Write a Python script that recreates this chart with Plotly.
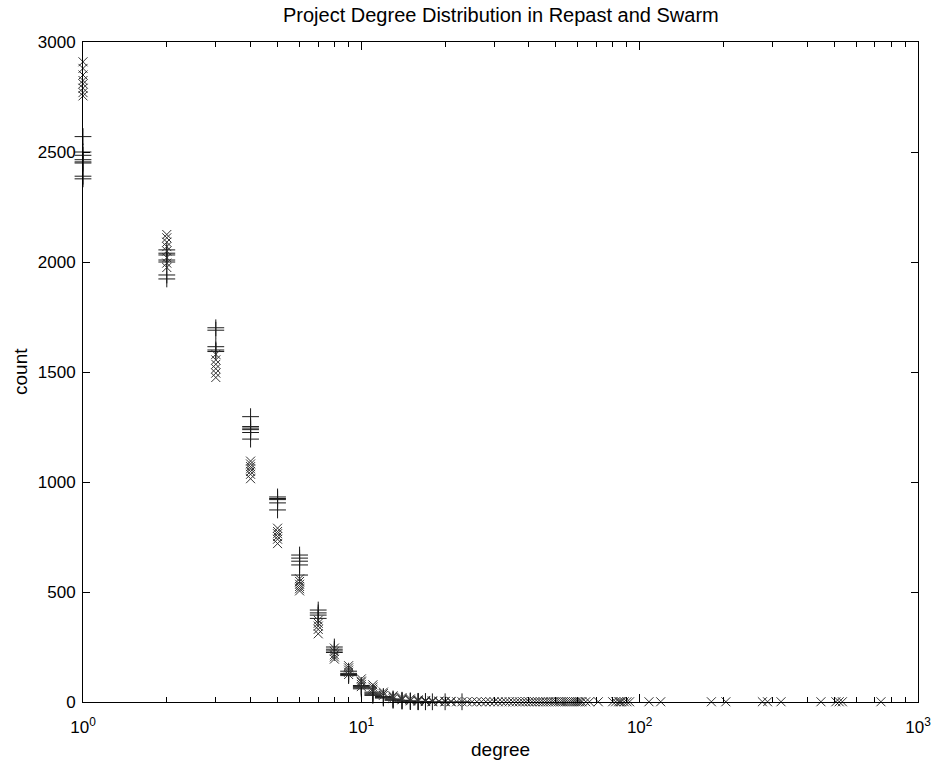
import plotly.graph_objects as go

# Repast runs ("+" markers): degree, count
repast_degree = (
    [1] * 8 + [2] * 7 + [3] * 5 + [4] * 6 + [5] * 5 + [6] * 5 + [7] * 4 + [8] * 4
    + [9] * 4 + [10] * 4 + [11] * 4 + [12] * 3 + [13] * 3 + [14] * 3 + [15] * 3
    + [16] * 3 + [17] * 2 + [18, 20, 23]
)
repast_count = [
    2570, 2500, 2485, 2465, 2455, 2450, 2390, 2378,
    2055, 2040, 2032, 2009, 2000, 1941, 1923,
    1701, 1690, 1615, 1600, 1593,
    1297, 1252, 1245, 1238, 1225, 1195,
    932, 925, 920, 905, 873,
    668, 654, 640, 623, 577,
    418, 405, 395, 380,
    250, 240, 232, 225,
    140, 130, 125, 120,
    75, 70, 65, 60,
    45, 40, 35, 30,
    25, 20, 18,
    14, 10, 8,
    8, 6, 4,
    5, 3, 2,
    3, 2, 1,
    2, 1,
    1, 1, 1,
]

# Swarm runs ("x" markers): degree, count
swarm_head_degree = (
    [1] * 8 + [2] * 8 + [3] * 6 + [4] * 7 + [5] * 6 + [6] * 6 + [7] * 5 + [8] * 5
    + [9] * 5 + [10] * 5 + [11] * 4 + [12] * 3 + [13] * 3 + [14] * 3 + [15] * 3
    + [16] * 3 + [17] * 3 + [18] * 3 + [19] * 2 + [20] * 2 + [21] * 2
)
swarm_head_count = [
    2910, 2880, 2850, 2825, 2810, 2790, 2770, 2755,
    2125, 2110, 2090, 2070, 2050, 2020, 1995, 1975,
    1580, 1555, 1535, 1515, 1495, 1475,
    1095, 1082, 1070, 1060, 1048, 1035, 1015,
    790, 775, 765, 752, 740, 720,
    560, 548, 535, 525, 515, 505,
    372, 358, 345, 330, 310,
    245, 230, 215, 205, 195,
    165, 155, 145, 135, 125,
    105, 95, 90, 80, 70,
    78, 68, 58, 50,
    45, 38, 30,
    28, 22, 15,
    20, 14, 10,
    14, 8, 5,
    10, 6, 3,
    7, 4, 2,
    5, 3, 1,
    4, 2,
    3, 1,
    3, 1,
]
swarm_tail_degree = [
    22, 23, 24, 25, 26, 27, 28, 29, 30, 31, 32, 33, 34, 35, 36, 37, 38, 39, 40,
    41, 42, 43, 44, 45, 46, 47, 48, 49, 50, 51, 52, 53, 54, 55, 56, 57, 58, 59,
    60, 61, 62, 64, 66, 71, 80, 82, 84, 85, 86, 88, 90, 92,
    108, 119, 181, 204, 276, 288, 322, 448, 507, 521, 535, 736,
]
swarm_tail_count = [1] * len(swarm_tail_degree)

swarm_degree = swarm_head_degree + swarm_tail_degree
swarm_count = swarm_head_count + swarm_tail_count

x_tick_vals = [1, 10, 100, 1000]
x_tick_text = ["10<sup>0</sup>", "10<sup>1</sup>", "10<sup>2</sup>", "10<sup>3</sup>"]
x_minor_vals = [m * 10 ** e for e in range(3) for m in range(2, 10)]
y_tick_vals = [0, 500, 1000, 1500, 2000, 2500, 3000]

FONT = "Liberation Sans, Arial, Helvetica, sans-serif"
FS = 17

fig = go.Figure()
fig.add_trace(go.Scatter(
    x=repast_degree, y=repast_count, mode="markers", name="Repast",
    cliponaxis=False,
    marker=dict(symbol="cross-thin-open", size=12, color="#1a1a1a",
                line=dict(width=1, color="#1a1a1a")),
))
fig.add_trace(go.Scatter(
    x=swarm_degree, y=swarm_count, mode="markers", name="Swarm",
    cliponaxis=False,
    marker=dict(symbol="x-thin-open", size=9, color="#333333",
                line=dict(width=1, color="#333333")),
))

fig.update_layout(
    width=939, height=766,
    margin=dict(l=83, r=21, t=42, b=64, autoexpand=False),
    paper_bgcolor="white", plot_bgcolor="white",
    showlegend=False,
    font=dict(family=FONT, size=FS, color="black"),
    xaxis=dict(
        type="log", range=[0, 3],
        tickmode="array", tickvals=x_tick_vals, ticktext=x_tick_text,
        ticks="inside", ticklen=8, tickwidth=1, tickcolor="black",
        minor=dict(tickmode="array", tickvals=x_minor_vals, ticks="inside",
                   ticklen=5, tickwidth=1, tickcolor="black", showgrid=False),
        showline=True, linecolor="black", linewidth=1, mirror="allticks",
        showgrid=False, zeroline=False, automargin=False,
        ticklabelstandoff=10,
        tickfont=dict(family=FONT, size=FS),
    ),
    yaxis=dict(
        range=[0, 3000],
        tickmode="array", tickvals=y_tick_vals,
        ticks="inside", ticklen=7, tickwidth=1, tickcolor="black",
        showline=True, linecolor="black", linewidth=1, mirror="allticks",
        showgrid=False, zeroline=False, automargin=False,
        ticklabelstandoff=3,
        tickfont=dict(family=FONT, size=FS),
    ),
    annotations=[
        dict(text="Project Degree Distribution in Repast and Swarm",
             xref="paper", yref="paper", x=0.5, y=1, yshift=27,
             xanchor="center", yanchor="middle",
             showarrow=False, font=dict(family=FONT, size=20)),
        dict(text="degree", xref="paper", yref="paper", x=0.5, y=0,
             yshift=-47, xanchor="center", yanchor="middle",
             showarrow=False, font=dict(family=FONT, size=19)),
        dict(text="count", xref="paper", yref="paper", x=0, y=0.5,
             xshift=-63, xanchor="center", yanchor="middle", textangle=-90,
             showarrow=False, font=dict(family=FONT, size=19)),
    ],
)

fig.write_html("out.html", config={"displayModeBar": False},
               post_script="document.body.style.margin='0px';")
